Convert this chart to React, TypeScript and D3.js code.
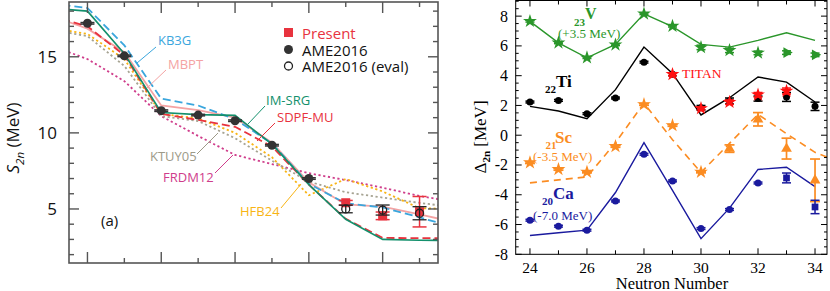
import React from "react";
import * as d3 from "d3";

// ---- panel (a): S2n, model curves ----
const leftN = [23, 24, 25, 26, 27, 28, 29, 30, 31, 32, 33, 34];
const kb3g = [18.5, 18.2, 15.75, 12.25, 11.8, 10.9, 9.3, 6.65, 5.37, 5.1, 4.45, 3.75];
const mbpt = [17.7, 16.85, 15.3, 11.8, 11.5, 11.0, 9.35, 6.75, 5.3, 5.15, 4.65, 4.1];
const imsrg = [18.2, 18.0, 15.2, 11.34, 11.2, 11.15, 9.26, 6.6, 4.32, 3.0, 2.94, 2.93];
const sdpfmu = [17.7, 17.0, 15.1, 11.25, 10.85, 10.4, 9.1, 6.6, 4.35, 3.1, 3.08, 3.08];
const ktuy05 = [16.78, 16.36, 14.4, 11.1, 10.78, 9.65, 8.17, 6.8, 6.1, 5.75, 5.4, 5.1];
const hfb24 = [16.9, 16.5, 14.85, 11.25, 10.95, 10.0, 8.4, 5.9, 6.97, 6.15, 5.05, 5.0];
const frdm12 = [15.75, 14.85, 13.4, 11.1, 9.8, 8.55, 7.95, 7.35, 6.9, 6.4, 5.85, 5.45];

// ---- panel (a): measured S2n ----
const ameN = [24, 25, 26, 27, 28, 29, 30];
const ameS2n = [17.2, 15.06, 11.46, 11.17, 10.8, 9.19, 7.0];
const ameErr = [0.05, 0.05, 0.05, 0.05, 0.05, 0.05, 0.05];
const presentN = [31, 32, 33];
const presentS2n = [5.41, 4.55, 4.82];
const presentErr = [0.15, 0.25, 1.0];
const evalS2n = [5.0, 4.93, 4.72];
const evalErr = [0.25, 0.33, 0.43];
const leftYTicks = [5, 10, 15];

// ---- right panel: Delta_2n ----
const rightN = [24, 25, 26, 27, 28, 29, 30, 31, 32, 33, 34];
const vExp = [7.66, 6.21, 5.21, 6.08, 8.16, 7.33, 5.9, 5.7, 5.53, 5.55, 5.4];
const vErr = [0.06, 0.06, 0.06, 0.06, 0.06, 0.06, 0.15, 0.15, 0.12, 0.12, 0.12];
const vTh = [7.65, 6.2, 5.2, 6.1, 8.15, 7.3, 6.1, 5.92, 6.37, 6.88, 6.37];
const tiExp = [2.23, 2.34, 1.45, 2.5, 4.91, 4.1, 1.85, 2.3, 2.46, 2.57, 1.94];
const tiErr = [0.06, 0.06, 0.06, 0.06, 0.06, 0.1, 0.15, 0.2, 0.17, 0.3, 0.28];
const tiTh = [1.94, 1.63, 1.11, 3.06, 5.92, 4.15, 1.36, 2.52, 3.91, 3.57, 2.23];
const titanN = [29, 30, 31, 32, 33];
const titan = [4.09, 1.8, 2.22, 2.72, 2.97];
const titanErr = [0.1, 0.1, 0.15, 0.15, 0.2];
const scExp = [-1.84, -2.29, -2.47, -0.75, 2.07, 0.66, -2.47, -0.9, 1.07, -0.9, -3.03];
const scErr = [0.06, 0.06, 0.06, 0.06, 0.06, 0.06, 0.06, 0.25, 0.45, 0.7, 1.43];
const scThN = [24, 25, 26, 27, 28, 29, 30, 31, 32, 33, 34, 35];
const scTh = [-3.2, -3.0, -2.8, -0.5, 2.15, -0.3, -2.5, -0.55, 1.4, 0.1, -1.15, -1.9];
const caExp = [-5.71, -6.11, -6.38, -4.42, -1.28, -3.07, -6.27, -4.99, -3.21, -2.87, -4.82];
const caErr = [0.06, 0.06, 0.06, 0.06, 0.06, 0.06, 0.06, 0.06, 0.06, 0.33, 0.45];
const caTh = [-6.74, -6.55, -6.38, -3.85, -0.5, -3.7, -6.95, -4.9, -2.3, -2.15, -3.45];
const rightYTicks = [-8, -6, -4, -2, 0, 2, 4, 6, 8];
const rightXTicks = [24, 26, 28, 30, 32, 34];

const SANS = "'Open Sans', 'Noto Sans', sans-serif";
const SERIF = "'Liberation Serif', 'Times New Roman', 'DejaVu Serif', serif";

const sym = (type, size) => d3.symbol().type(type).size(size)();

const ErrBar = ({ x, y0, y1, w, color, sw = 1.2 }) => (
  <g stroke={color} strokeWidth={sw}>
    <line x1={x} x2={x} y1={y0} y2={y1} />
    <line x1={x - w} x2={x + w} y1={y0} y2={y0} />
    <line x1={x - w} x2={x + w} y1={y1} y2={y1} />
  </g>
);

const App = () => {
  // left panel scales
  const xL = d3.scaleLinear().domain([23.5, 33.5]).range([69, 438]);
  const yL = d3.scaleLinear().domain([1.45, 18.6]).range([263, 2]);
  const lineL = d3.line().x((d, i) => xL(leftN[i])).y((d) => yL(d));

  // right panel scales
  const xR = d3.scaleLinear().domain([23.5, 34.42]).range([515.7, 827]);
  const yR = d3.scaleLinear().domain([-8, 9.05]).range([254.3, 0.5]);
  const lineR = d3.line().x((d, i) => xR(rightN[i])).y((d) => yR(d));
  const lineSc = d3.line().x((d, i) => xR(scThN[i])).y((d) => yR(d));

  const models = [
    { vals: frdm12, color: "#cf3d8b", dash: "2.2,2.6", w: 1.8 },
    { vals: ktuy05, color: "#a6a392", dash: "2.2,2.6", w: 1.8 },
    { vals: hfb24, color: "#f8b415", dash: "2.2,2.6", w: 1.8 },
    { vals: mbpt, color: "#f4a3a3", dash: null, w: 1.8 },
    { vals: kb3g, color: "#3aa6dd", dash: "8,4", w: 1.8 },
    { vals: sdpfmu, color: "#e8333e", dash: "8,4", w: 1.8 },
    { vals: imsrg, color: "#13906c", dash: null, w: 1.6 },
  ];

  const labels = [
    { t: "KB3G", x: 158, y: 40, c: "#3aa6dd", lx1: 156, ly1: 47, lx2: 137, ly2: 63 },
    { t: "MBPT", x: 168, y: 64, c: "#f4a3a3", lx1: 166, ly1: 70, lx2: 147, ly2: 88 },
    { t: "IM-SRG", x: 266, y: 100, c: "#13906c", lx1: 265, ly1: 106, lx2: 248, ly2: 124 },
    { t: "SDPF-MU", x: 277, y: 117, c: "#e8333e", lx1: 275, ly1: 123, lx2: 257, ly2: 141 },
    { t: "KTUY05", x: 150, y: 156, c: "#9d9a88", lx1: 197, ly1: 154, lx2: 218, ly2: 133 },
    { t: "FRDM12", x: 163, y: 177, c: "#cf3d8b", lx1: 215, ly1: 173, lx2: 233, ly2: 155 },
    { t: "HFB24", x: 240, y: 211, c: "#f8b415", lx1: 281, ly1: 208, lx2: 301, ly2: 184 },
  ];

  const frame = "#555";
  const lx0 = 69, lx1 = 438, ly0 = 2, ly1 = 263;
  const rx0 = 515.7, rx1 = 827, ry0 = 0.5, ry1 = 254.3;

  const star = sym(d3.symbolStar, 60);
  const tri = sym(d3.symbolTriangle, 50);
  const sq = sym(d3.symbolSquare, 45);

  return (
    <svg width={830} height={291} style={{ position: "absolute", left: 0, top: 0, background: "#fff" }}>
      <defs>
        <clipPath id="clipL"><rect x={lx0} y={ly0} width={lx1 - lx0} height={ly1 - ly0} /></clipPath>
        <clipPath id="clipR"><rect x={rx0} y={ry0} width={rx1 - rx0} height={ry1 - ry0} /></clipPath>
      </defs>

      {/* ===== left panel ===== */}
      <g clipPath="url(#clipL)">
        {models.map((m, i) => (
          <path key={i} d={lineL(m.vals)} fill="none" stroke={m.color} strokeWidth={m.w}
            strokeDasharray={m.dash || undefined} />
        ))}
      </g>
      {labels.map((l) => (
        <g key={l.t}>
          <line x1={l.lx1} y1={l.ly1} x2={l.lx2} y2={l.ly2} stroke={l.c} strokeWidth={1} />
          <text x={l.x} y={l.y} fill={l.c} fontSize={13} fontFamily={SANS} dominantBaseline="central">{l.t}</text>
        </g>
      ))}
      {ameN.map((n, i) => (
        <g key={"ame" + n}>
          <ErrBar x={xL(n)} y0={yL(ameS2n[i] - ameErr[i])} y1={yL(ameS2n[i] + ameErr[i])} w={7} color="#333" sw={1.5} />
          <circle cx={xL(n)} cy={yL(ameS2n[i])} r={4.5} fill="#333" />
        </g>
      ))}
      {presentN.map((n, i) => (
        <g key={"pr" + n}>
          <ErrBar x={xL(n)} y0={yL(presentS2n[i] - presentErr[i])} y1={yL(presentS2n[i] + presentErr[i])} w={7} color="#e8333e" sw={1.5} />
          <rect x={xL(n) - 4.5} y={yL(presentS2n[i]) - 4.5} width={9} height={9} fill="#e8333e" />
          <ErrBar x={xL(n)} y0={yL(evalS2n[i] - evalErr[i])} y1={yL(evalS2n[i] + evalErr[i])} w={7} color="#222" sw={1.3} />
          <circle cx={xL(n)} cy={yL(evalS2n[i])} r={4} fill="none" stroke="#222" strokeWidth={1.3} />
        </g>
      ))}

      {/* left frame & ticks */}
      <rect x={lx0} y={ly0} width={lx1 - lx0} height={ly1 - ly0} fill="none" stroke={frame} strokeWidth={1.6} />
      {d3.range(2, 19).map((v) => {
        const len = v % 5 === 0 ? 10 : 5;
        return (
          <g key={"lyt" + v} stroke={frame} strokeWidth={1.4}>
            <line x1={lx0} x2={lx0 + len} y1={yL(v)} y2={yL(v)} />
            <line x1={lx1} x2={lx1 - len} y1={yL(v)} y2={yL(v)} />
          </g>
        );
      })}
      {d3.range(24, 34).map((n) => {
        const len = n % 2 === 0 ? 11 : 5;
        return (
          <g key={"lxt" + n} stroke={frame} strokeWidth={1.4}>
            <line x1={xL(n)} x2={xL(n)} y1={ly1} y2={ly1 - len} />
            <line x1={xL(n)} x2={xL(n)} y1={ly0} y2={ly0 + len} />
          </g>
        );
      })}
      {leftYTicks.map((v) => (
        <text key={"lyl" + v} x={57} y={yL(v)} textAnchor="end" dominantBaseline="central"
          fontSize={17} fontFamily={SANS} fill="#111">{v}</text>
      ))}
      <text transform="translate(19,138) rotate(-90)" textAnchor="middle" fontSize={17} fontFamily={SANS} fill="#111">
        <tspan fontStyle="italic">S</tspan>
        <tspan fontStyle="italic" fontSize={11.5} dy={4.5}>2n</tspan>
        <tspan dy={-4.5}> (MeV)</tspan>
      </text>
      <text x={101} y={220} fontSize={15} fontFamily={SANS} fill="#111" dominantBaseline="central">(a)</text>

      {/* legend */}
      <rect x={284} y={28} width={9} height={9} fill="#e8333e" />
      <text x={302} y={32.5} fontSize={15} fontFamily={SANS} fill="#e8333e" dominantBaseline="central">Present</text>
      <circle cx={288.5} cy={49.5} r={4.5} fill="#333" />
      <text x={302} y={49.5} fontSize={15} fontFamily={SANS} fill="#111" dominantBaseline="central">AME2016</text>
      <circle cx={288.5} cy={66} r={4} fill="none" stroke="#222" strokeWidth={1.3} />
      <text x={302} y={66} fontSize={15} fontFamily={SANS} fill="#111" dominantBaseline="central">AME2016 (eval)</text>

      {/* ===== right panel ===== */}
      <g clipPath="url(#clipR)">
        <path d={lineR(vTh)} fill="none" stroke="#2a962a" strokeWidth={1.4} />
        <path d={lineR(tiTh)} fill="none" stroke="#000" strokeWidth={1.4} />
        <path d={lineSc(scTh)} fill="none" stroke="#fb8c22" strokeWidth={1.6} strokeDasharray="7,5" />
        <path d={lineR(caTh)} fill="none" stroke="#1a1a9e" strokeWidth={1.4} />
      </g>

      {/* V */}
      {rightN.map((n, i) => (
        <g key={"v" + n}>
          <ErrBar x={xR(n)} y0={yR(vExp[i] - vErr[i])} y1={yR(vExp[i] + vErr[i])} w={4.5} color="#2a962a" sw={1.5} />
          <path d={n >= 33 ? tri : star} transform={`translate(${xR(n)},${yR(vExp[i])}) rotate(${n >= 33 ? 90 : 0})`} fill="#2a962a" />
        </g>
      ))}
      {/* Ti */}
      {rightN.map((n, i) => (
        <g key={"ti" + n}>
          <ErrBar x={xR(n)} y0={yR(tiExp[i] - tiErr[i])} y1={yR(tiExp[i] + tiErr[i])} w={4.5} color="#000" sw={1.5} />
          <circle cx={xR(n)} cy={yR(tiExp[i])} r={3.5} fill="#000" />
        </g>
      ))}
      {titanN.map((n, i) => (
        <g key={"tt" + n}>
          <ErrBar x={xR(n)} y0={yR(titan[i] - titanErr[i])} y1={yR(titan[i] + titanErr[i])} w={4.5} color="#ff1010" sw={1.5} />
          <path d={star} transform={`translate(${xR(n)},${yR(titan[i])})`} fill="#ff1010" />
        </g>
      ))}
      {/* Sc */}
      {rightN.map((n, i) => (
        <g key={"sc" + n}>
          <ErrBar x={xR(n)} y0={yR(scExp[i] - scErr[i])} y1={yR(scExp[i] + scErr[i])} w={5} color="#fb8c22" sw={1.7} />
          <path d={n >= 31 ? tri : star} transform={`translate(${xR(n)},${yR(scExp[i])})`} fill="#fb8c22" />
        </g>
      ))}
      {/* Ca */}
      {rightN.map((n, i) => (
        <g key={"ca" + n}>
          <ErrBar x={xR(n)} y0={yR(caExp[i] - caErr[i])} y1={yR(caExp[i] + caErr[i])} w={4.5} color="#1a1a9e" sw={1.5} />
          {n >= 33
            ? <path d={sq} transform={`translate(${xR(n)},${yR(caExp[i])})`} fill="#1a1a9e" />
            : <circle cx={xR(n)} cy={yR(caExp[i])} r={3.5} fill="#1a1a9e" />}
        </g>
      ))}

      {/* right labels */}
      <text x={574} y={25.5} fontSize={11} fontWeight="bold" fontFamily={SERIF} fill="#2a962a">23</text>
      <text x={585} y={19} fontSize={16} fontWeight="bold" fontFamily={SERIF} fill="#2a962a">V</text>
      <text x={558} y={38} fontSize={13} fontFamily={SERIF} fill="#2a962a">(+3.5 MeV)</text>
      <text x={545} y={93} fontSize={11} fontWeight="bold" fontFamily={SERIF} fill="#000">22</text>
      <text x={556} y={87.3} fontSize={17} fontWeight="bold" fontFamily={SERIF} fill="#000">Ti</text>
      <text x={682} y={78} fontSize={13.5} fontFamily={SERIF} fill="#ff1010">TITAN</text>
      <text x={545.5} y={149} fontSize={11} fontWeight="bold" fontFamily={SERIF} fill="#fb8c22">21</text>
      <text x={555} y={142.5} fontSize={17} fontWeight="bold" fontFamily={SERIF} fill="#fb8c22">Sc</text>
      <text x={533} y={161} fontSize={13} fontFamily={SERIF} fill="#fb8c22">(-3.5 MeV)</text>
      <text x={542} y={205} fontSize={11} fontWeight="bold" fontFamily={SERIF} fill="#1a1a9e">20</text>
      <text x={553} y={198.5} fontSize={17} fontWeight="bold" fontFamily={SERIF} fill="#1a1a9e">Ca</text>
      <text x={533} y={219.5} fontSize={13} fontFamily={SERIF} fill="#1a1a9e">(-7.0 MeV)</text>

      {/* right frame & ticks */}
      <rect x={rx0} y={ry0} width={rx1 - rx0} height={ry1 - ry0} fill="none" stroke="#000" strokeWidth={1} />
      {d3.range(-8, 9.01, 0.5).map((v) => {
        const len = v % 2 === 0 ? 6 : 3;
        return (
          <g key={"ryt" + v} stroke="#000" strokeWidth={1}>
            <line x1={rx0} x2={rx0 + len} y1={yR(v)} y2={yR(v)} />
            <line x1={rx1} x2={rx1 - len} y1={yR(v)} y2={yR(v)} />
          </g>
        );
      })}
      {d3.range(24, 35).map((n) => {
        const len = n % 2 === 0 ? 6 : 4;
        return (
          <g key={"rxt" + n} stroke="#000" strokeWidth={1}>
            <line x1={xR(n)} x2={xR(n)} y1={ry1} y2={ry1 - len} />
            <line x1={xR(n)} x2={xR(n)} y1={ry0} y2={ry0 + len} />
          </g>
        );
      })}
      {rightYTicks.map((v) => (
        <text key={"ryl" + v} x={508} y={yR(v)} textAnchor="end" dominantBaseline="central"
          fontSize={16} fontFamily={SERIF} fill="#000">{v}</text>
      ))}
      {rightXTicks.map((n) => (
        <text key={"rxl" + n} x={xR(n)} y={272.5} textAnchor="middle" fontSize={15.5} fontFamily={SERIF} fill="#000">{n}</text>
      ))}
      <text x={672} y={288.5} textAnchor="middle" fontSize={16.5} fontFamily={SERIF} fill="#000">Neutron Number</text>
      <text transform="translate(486,137) rotate(-90)" textAnchor="middle" fontSize={17} fontFamily={SERIF} fill="#000">
        <tspan>Δ</tspan>
        <tspan fontSize={11} fontWeight="bold" dy={4}>2n</tspan>
        <tspan dy={-4}> [MeV]</tspan>
      </text>
    </svg>
  );
};

export default App;
